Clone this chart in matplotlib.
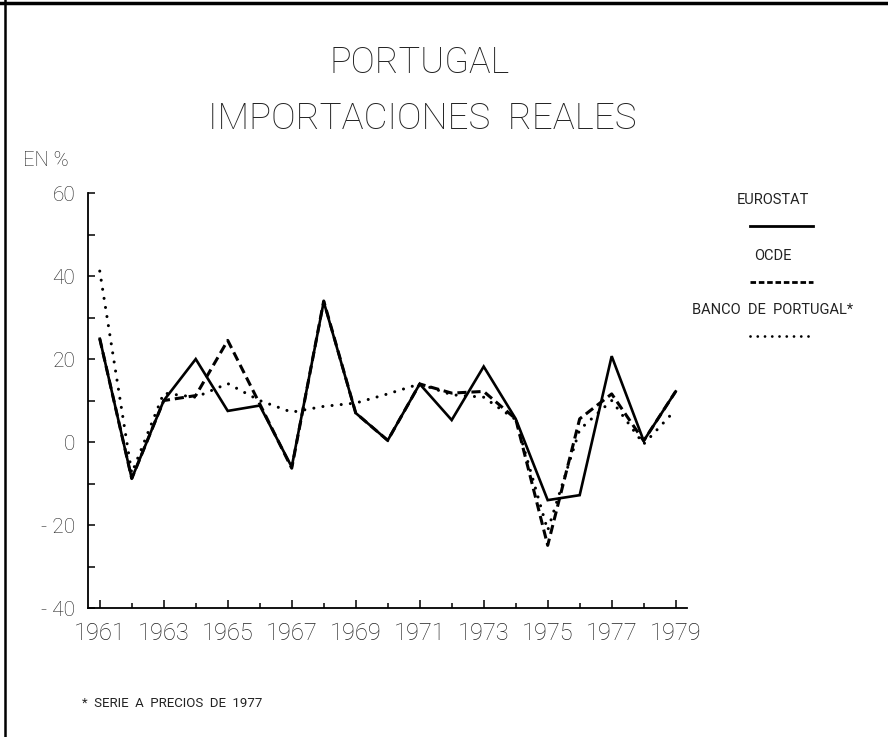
import numpy as np
import matplotlib
matplotlib.use("Agg")
import matplotlib.pyplot as plt
from matplotlib.lines import Line2D
from matplotlib.ticker import MultipleLocator, FixedLocator, FixedFormatter

years = list(range(1961, 1980))
eurostat = [24.9, -8.8, 10.0, 20.0, 7.5, 8.8, -6.0, 33.8, 7.0, 0.4, 14.0, 5.3, 18.2, 5.6,
            -14.0, -12.8, 20.7, 0.3, 12.2]
ocde = [24.9, -8.8, 10.0, 11.2, 24.5, 9.2, -6.3, 34.0, 7.0, 0.4, 14.0, 11.8, 12.2, 5.6,
        -24.9, 5.6, 11.6, 0.3, 12.2]
banco = [41.2, -7.5, 11.8, 10.8, 14.1, 10.0, 7.2, 8.6, 9.4, 11.6, 14.0, 11.4, 10.8, 5.4,
         -21.3, 3.0, 10.0, -0.5, 7.8]

ytick_vals = [-40, -20, 0, 20, 40, 60]
ytick_labels = ["- 40", "- 20", "0", "20", "40", "60"]
xtick_vals = list(range(1961, 1980, 2))

plt.rcParams['font.family'] = ['Roboto', 'DejaVu Sans']

fig = plt.figure(figsize=(8.88, 7.37), dpi=100)
ax = fig.add_axes([0.099, 0.175, 0.6745, 0.563])

ax.plot(years, eurostat, color='black', lw=1.9, ls='-', solid_joinstyle='miter')
ax.plot(years, ocde, color='black', lw=2.2, ls=(0, (3, 1.6)))
ax.plot(years, banco, color='black', lw=2.2, ls=(0, (0.01, 3.0)), dash_capstyle='round')

ax.set_xlim(1960.63, 1979.35)
ax.set_ylim(-40, 60)

for s in ['top', 'right']:
    ax.spines[s].set_visible(False)
for s in ['left', 'bottom']:
    ax.spines[s].set_linewidth(1.3)

ax.yaxis.set_major_locator(FixedLocator(ytick_vals))
ax.yaxis.set_major_formatter(FixedFormatter(ytick_labels))
ax.yaxis.set_minor_locator(MultipleLocator(10))
ax.xaxis.set_major_locator(FixedLocator(xtick_vals))
ax.xaxis.set_minor_locator(MultipleLocator(1))

ax.tick_params(axis='y', which='both', direction='in', length=5, width=1.1,
               labelsize=15, pad=9)
ax.tick_params(axis='x', which='major', direction='in', length=6, width=1.1,
               labelsize=17, pad=10)
ax.tick_params(axis='x', which='minor', direction='in', length=3.5, width=1.1)
for lab in ax.get_xticklabels() + ax.get_yticklabels():
    lab.set_fontweight('light')
    lab.set_color('#222222')

# titles
fig.text(0.472, 0.915, "PORTUGAL", ha='center', va='center', fontsize=26,
         fontweight='light', color='#222222')
fig.text(0.476, 0.839, "IMPORTACIONES  REALES", ha='center', va='center', fontsize=26.5,
         fontweight='light', color='#222222')
fig.text(0.026, 0.782, "EN %", ha='left', va='center', fontsize=14.5,
         fontweight='light', color='#222222')

# legend drawn by hand (label above sample line)
leg = [("EUROSTAT", '-', 'butt', 0.729), ("OCDE", (0, (2.0, 1.0)), 'butt', 0.653),
       ("BANCO  DE  PORTUGAL*", (0, (0.01, 2.6)), 'round', 0.580)]
for name, style, cap, yy in leg:
    fig.text(0.87, yy, name, ha='center', va='center', fontsize=10.5, color='#222222')
    fig.add_artist(Line2D([0.845, 0.916], [yy - 0.036, yy - 0.036], color='black',
                          lw=2.0, ls=style, dash_capstyle=cap,
                          transform=fig.transFigure))

fig.text(0.092, 0.046, "*  SERIE  A  PRECIOS  DE  1977", ha='left', va='center',
         fontsize=9.5, color='#222222')

# scanned page frame
fig.add_artist(Line2D([0, 1], [0.996, 0.996], color='black', lw=2.5,
                      transform=fig.transFigure))
fig.add_artist(Line2D([0.006, 0.006], [0, 1], color='black', lw=1.8,
                      transform=fig.transFigure))

fig.savefig("out.png", dpi=100)
